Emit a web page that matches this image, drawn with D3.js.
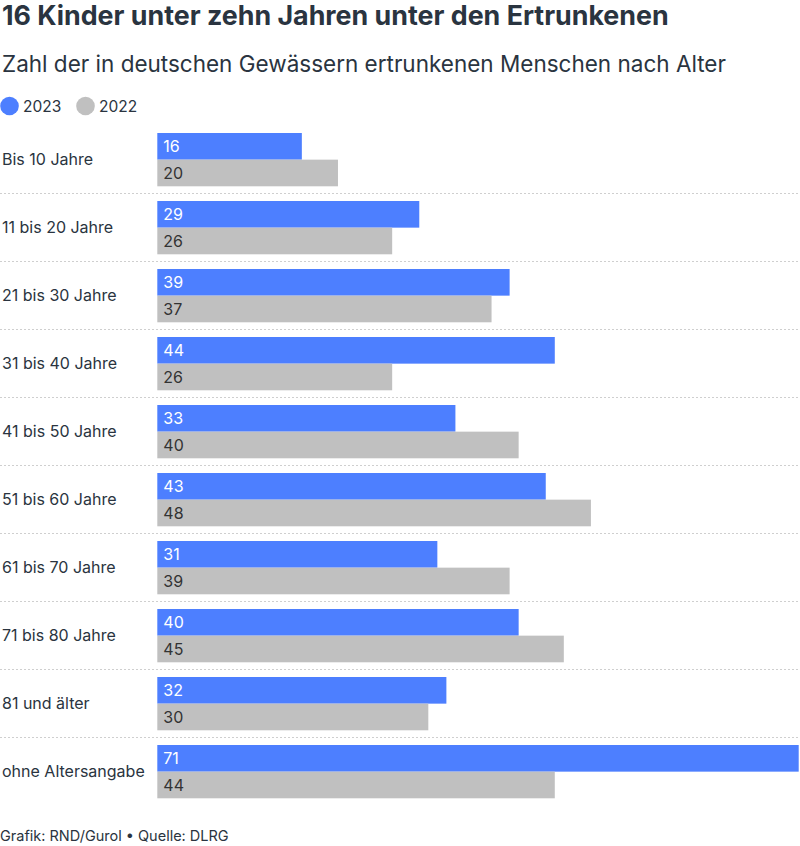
<!DOCTYPE html>
<html>
<head>
<meta charset="utf-8">
<script src="https://cdn.jsdelivr.net/npm/d3@7"></script>
<style>
  html, body { margin: 0; padding: 0; background: #fff; }
  svg { display: block; }
  text { font-family: Inter, "Noto Sans", sans-serif; }
</style>
</head>
<body>
<script>
const categories = ["Bis 10 Jahre", "11 bis 20 Jahre", "21 bis 30 Jahre", "31 bis 40 Jahre", "41 bis 50 Jahre",
  "51 bis 60 Jahre", "61 bis 70 Jahre", "71 bis 80 Jahre", "81 und älter", "ohne Altersangabe"];
const seriesNames = ["2023", "2022"];
const values2023 = [16, 29, 39, 44, 33, 43, 31, 40, 32, 71];
const values2022 = [20, 26, 37, 26, 40, 48, 39, 45, 30, 44];
const titleText = "16 Kinder unter zehn Jahren unter den Ertrunkenen";
const subtitleText = "Zahl der in deutschen Gewässern ertrunkenen Menschen nach Alter";
const footerText = "Grafik: RND/Gurol \u2022 Quelle: DLRG";

const W = 800, H = 846;
const colors = { "2023": "#4d7fff", "2022": "#c0c0c0" };
const labelColors = { "2023": "#ffffff", "2022": "#333333" };
const textColor = "#2a3440";

const svg = d3.select("body").append("svg").attr("width", W).attr("height", H);

function fit(sel, targetWidth) {
  const node = sel.node();
  const fs = parseFloat(sel.attr("font-size"));
  const w = node.getComputedTextLength();
  if (w > 0) sel.attr("font-size", (fs * targetWidth / w).toFixed(2));
}

const title = svg.append("text").attr("x", 2).attr("y", 25)
  .attr("font-family", "Roboto, Inter, sans-serif").attr("font-weight", 700)
  .attr("font-size", 24).attr("fill", textColor).text(titleText);
fit(title, 667);

const sub = svg.append("text").attr("x", 2).attr("y", 72)
  .attr("font-size", 21).attr("font-weight", 400).attr("fill", textColor).text(subtitleText);
fit(sub, 724);

// legend
const legendX = [9.5, 85.5];
seriesNames.forEach((s, i) => {
  const g = svg.append("g").attr("transform", `translate(${legendX[i]},106)`);
  g.append("circle").attr("r", 9.3).attr("fill", colors[s]);
  g.append("text").attr("x", 13.5).attr("y", 0).attr("dy", "0.36em")
    .attr("font-size", 15.5).attr("fill", textColor).text(s);
});

// scales
const y = d3.scaleBand().domain(categories).range([125, 125 + 68 * categories.length]).padding(0);
const yInner = d3.scaleBand().domain(seriesNames).range([8, 61.3]).padding(0);
const x = d3.scaleLinear().domain([0, 71]).range([157.3, 798.7]);

const data = categories.map((c, i) => ({ cat: c, vals: [
  { s: "2023", v: values2023[i] }, { s: "2022", v: values2022[i] } ] }));

// separators
categories.slice(0, -1).forEach(c => {
  svg.append("line").attr("x1", 0).attr("x2", W)
    .attr("y1", y(c) + y.bandwidth() + 0.5).attr("y2", y(c) + y.bandwidth() + 0.5)
    .attr("stroke", "#cfcfcf").attr("stroke-width", 1).attr("stroke-dasharray", "2,2");
});

const rows = svg.selectAll("g.row").data(data).join("g").attr("class", "row")
  .attr("transform", d => `translate(0,${y(d.cat)})`);

rows.append("text").attr("x", 2).attr("y", y.bandwidth() / 2 + 0.5).attr("dy", "0.36em")
  .attr("font-size", 16).attr("fill", textColor).text(d => d.cat);

rows.selectAll("rect").data(d => d.vals).join("rect")
  .attr("x", x(0)).attr("y", d => yInner(d.s))
  .attr("width", d => x(d.v) - x(0)).attr("height", yInner.bandwidth())
  .attr("fill", d => colors[d.s]);

rows.selectAll("text.val").data(d => d.vals).join("text").attr("class", "val")
  .attr("x", x(0) + 6).attr("y", d => yInner(d.s) + yInner.bandwidth() / 2).attr("dy", "0.36em")
  .attr("font-size", 16).attr("fill", d => labelColors[d.s]).text(d => d.v);

svg.append("text").attr("x", 0).attr("y", 841).attr("font-size", 14.5)
  .attr("fill", textColor).text(footerText);
</script>
</body>
</html>
